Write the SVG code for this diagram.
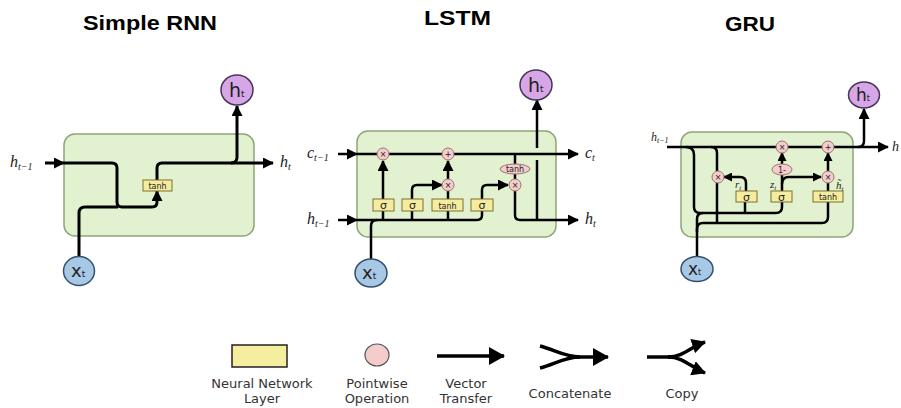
<svg xmlns="http://www.w3.org/2000/svg" width="901" height="408" viewBox="0 0 901 408">
<defs>
<marker id="ah" markerUnits="userSpaceOnUse" markerWidth="11" markerHeight="11" refX="10" refY="5.5" orient="auto"><path d="M0,0 L11,5.5 L0,11 z" fill="#000"/></marker>
<marker id="ahs" markerUnits="userSpaceOnUse" markerWidth="9" markerHeight="9" refX="8" refY="4.5" orient="auto"><path d="M0,0 L9,4.5 L0,9 z" fill="#000"/></marker>
<marker id="ahl" markerUnits="userSpaceOnUse" markerWidth="16" markerHeight="18" refX="15" refY="9" orient="auto"><path d="M0,0 L16,9 L0,18 z" fill="#000"/></marker>
<marker id="ahc" markerUnits="userSpaceOnUse" markerWidth="14" markerHeight="15" refX="13" refY="7.5" orient="auto"><path d="M0,0 L14,7.5 L0,15 z" fill="#000"/></marker>
<style>
.title{font-family:"Liberation Sans",Arial,sans-serif;font-weight:bold;font-size:20px;fill:#000}
.cell{fill:#e2f1d0;stroke:#8ea676;stroke-width:1.5}
.layer{fill:#f5ec9f;stroke:#7d7030;stroke-width:1}
.pw{fill:#f3cccc;stroke:#a07070;stroke-width:1}
.hc{fill:#d6a6e6;stroke:#4a3358;stroke-width:1.5}
.xc{fill:#a8c9e6;stroke:#33506e;stroke-width:1.5}
.ln{fill:none;stroke:#000;stroke-width:3;stroke-linejoin:round}
.ln2{fill:none;stroke:#000;stroke-width:2.5;stroke-linejoin:round}
.math{font-family:"Liberation Serif","DejaVu Serif",serif;font-style:italic;fill:#222}
.circ{font-family:"DejaVu Sans",sans-serif;fill:#222}
.small{font-family:"DejaVu Sans",sans-serif;font-size:8px;fill:#222;text-anchor:middle}
.leg{font-family:"DejaVu Sans",sans-serif;font-size:13px;fill:#333;text-anchor:middle}
.lg{fill:none;stroke:#000;stroke-width:3.5}
</style>
</defs>
<rect width="901" height="408" fill="#fff"/>

<text class="title" x="83" y="30" textLength="134" lengthAdjust="spacingAndGlyphs">Simple RNN</text>
<text class="title" x="424" y="25" textLength="67" lengthAdjust="spacingAndGlyphs">LSTM</text>
<text class="title" x="725" y="31" textLength="50" lengthAdjust="spacingAndGlyphs">GRU</text>

<!-- Simple RNN -->
<g id="rnn-cell"><rect class="cell" x="64" y="134" width="190" height="102" rx="11"/></g>
<g id="rnn-connectors">
<path class="ln" d="M45,163 H64" marker-end="url(#ah)"/>
<path class="ln" d="M64,163 H112 Q117,163 117,168 V202 Q117,207 122,207 H152 Q157,207 157,202 V191" marker-end="url(#ah)"/>
<path class="ln" d="M79,256 V213 Q79,207 85,207 H118"/>
<path class="ln" d="M157,180 V168 Q157,163 162,163 H273" marker-end="url(#ah)"/>
<path class="ln" d="M231,163 Q237,163 237,157 V106" marker-end="url(#ah)"/>
</g>
<g id="rnn-tanh"><rect class="layer" x="143" y="180" width="29" height="11"/><text class="small" x="157.5" y="188.5">tanh</text></g>
<g id="rnn-ht"><ellipse class="hc" cx="237" cy="90" rx="16" ry="15"/><text class="circ" x="229" y="97" font-size="19">h<tspan font-size="9">t</tspan></text></g>
<g id="rnn-xt"><ellipse class="xc" cx="79" cy="271" rx="15.5" ry="14.5"/><text class="circ" x="71" y="277" font-size="18">x<tspan font-size="9">t</tspan></text></g>
<g id="rnn-labels">
<text class="math" x="10" y="167" font-size="16">h<tspan font-size="10" dy="3">t−1</tspan></text>
<text class="math" x="280" y="167" font-size="16">h<tspan font-size="10" dy="3">t</tspan></text>
</g>

<!-- LSTM -->
<g id="lstm-cell"><rect class="cell" x="357" y="131" width="199" height="106" rx="11"/></g>
<g id="lstm-connectors">
<path class="ln2" d="M338,154 H357" marker-end="url(#ah)"/>
<path class="ln2" d="M357,154 H578" marker-end="url(#ah)"/>
<path class="ln2" d="M338,220 H357" marker-end="url(#ah)"/>
<path class="ln2" d="M357,220 H477 Q482,220 482,215 V211"/>
<path class="ln2" d="M371,259 V226 Q371,220 377,220"/>
<path class="ln2" d="M383,220 V161" marker-end="url(#ah)"/>
<path class="ln2" d="M412,220 V190 Q412,185 417,185 H442" marker-end="url(#ah)"/>
<path class="ln2" d="M448,220 V191"/>
<path class="ln2" d="M448,179 V161" marker-end="url(#ah)"/>
<path class="ln2" d="M482,199 V190 Q482,185 487,185 H508" marker-end="url(#ah)"/>
<path class="ln2" d="M515,154 V165"/>
<path class="ln2" d="M515,174 V179"/>
<path class="ln2" d="M515,191 V215 Q515,220 520,220 H578" marker-end="url(#ah)"/>
<path class="ln2" d="M537,220 V160"/>
<path class="ln2" d="M537,148 V100" marker-end="url(#ah)"/>
</g>
<g id="lstm-gates">
<rect class="layer" x="373" y="199" width="21" height="12"/><text class="circ" x="383.5" y="209" font-size="11" text-anchor="middle">σ</text>
<rect class="layer" x="402" y="199" width="21" height="12"/><text class="circ" x="412.5" y="209" font-size="11" text-anchor="middle">σ</text>
<rect class="layer" x="432" y="199" width="31" height="12"/><text class="small" x="447.5" y="208.5" font-size="9">tanh</text>
<rect class="layer" x="471" y="199" width="22" height="12"/><text class="circ" x="482" y="209" font-size="11" text-anchor="middle">σ</text>
</g>
<g id="lstm-ops">
<circle class="pw" cx="383" cy="154" r="6"/><text class="small" x="383" y="157">×</text>
<circle class="pw" cx="448" cy="154" r="6"/><text class="small" x="448" y="157">+</text>
<circle class="pw" cx="448" cy="185" r="6"/><text class="small" x="448" y="188">×</text>
<ellipse class="pw" cx="515" cy="169" rx="15" ry="5"/><text class="small" x="515" y="172">tanh</text>
<circle class="pw" cx="515" cy="185" r="6"/><text class="small" x="515" y="188">×</text>
</g>
<g id="lstm-ht"><ellipse class="hc" cx="536" cy="85" rx="16" ry="15"/><text class="circ" x="528" y="92" font-size="19">h<tspan font-size="9">t</tspan></text></g>
<g id="lstm-xt"><ellipse class="xc" cx="371" cy="273" rx="16" ry="14"/><text class="circ" x="362" y="279" font-size="18">x<tspan font-size="9">t</tspan></text></g>
<g id="lstm-labels">
<text class="math" x="307" y="158" font-size="16">c<tspan font-size="10" dy="3">t−1</tspan></text>
<text class="math" x="585" y="158" font-size="16">c<tspan font-size="10" dy="3">t</tspan></text>
<text class="math" x="307" y="224" font-size="16">h<tspan font-size="10" dy="3">t−1</tspan></text>
<text class="math" x="585" y="224" font-size="16">h<tspan font-size="10" dy="3">t</tspan></text>
</g>

<!-- GRU -->
<g id="gru-cell"><rect class="cell" x="681" y="132" width="172" height="105" rx="11"/></g>
<g id="gru-connectors">
<path class="ln2" d="M667,147 H888" marker-end="url(#ah)"/>
<path class="ln2" d="M858,147 Q864,147 864,141 V109" marker-end="url(#ah)"/>
<path class="ln2" d="M686,147 Q694,147 694,155 V207 Q694,213 700,213 H776 Q782,213 782,207 V201"/>
<path class="ln2" d="M745,213 V201"/>
<path class="ln2" d="M711,147 Q717,147 717,153 V171"/>
<path class="ln2" d="M717,183 V223"/>
<path class="ln2" d="M697,257 V229 Q697,223 703,223 H822 Q828,223 828,217 V201"/>
<path class="ln2" d="M697,232 V219 Q697,213 703,213"/>
<path class="ln2" d="M746,191 V183 Q746,177 740,177 H724" marker-end="url(#ahs)"/>
<path class="ln2" d="M782,191 V175"/>
<path class="ln2" d="M782,164 V153" marker-end="url(#ahs)"/>
<path class="ln2" d="M782,184 Q782,177 789,177 H821" marker-end="url(#ahs)"/>
<path class="ln2" d="M828,191 V183"/>
<path class="ln2" d="M828,171 V153" marker-end="url(#ahs)"/>
</g>
<g id="gru-gates">
<rect class="layer" x="736" y="191" width="21" height="11"/><text class="circ" x="746.5" y="200.5" font-size="11" text-anchor="middle">σ</text>
<rect class="layer" x="771" y="191" width="21" height="11"/><text class="circ" x="781.5" y="200.5" font-size="11" text-anchor="middle">σ</text>
<rect class="layer" x="813" y="191" width="30" height="11"/><text class="small" x="828" y="199.5" font-size="9">tanh</text>
</g>
<g id="gru-ops">
<circle class="pw" cx="782" cy="147" r="6"/><text class="small" x="782" y="150">×</text>
<circle class="pw" cx="828" cy="147" r="6"/><text class="small" x="828" y="150">+</text>
<ellipse class="pw" cx="782" cy="169.5" rx="10" ry="5.5"/><text class="small" x="782" y="172.5">1-</text>
<circle class="pw" cx="718" cy="177" r="6"/><text class="small" x="718" y="180">×</text>
<circle class="pw" cx="828" cy="177" r="6"/><text class="small" x="828" y="180">×</text>
</g>
<g id="gru-ht"><ellipse class="hc" cx="864" cy="95" rx="15.5" ry="13"/><text class="circ" x="856" y="101" font-size="17">h<tspan font-size="8">t</tspan></text></g>
<g id="gru-xt"><ellipse class="xc" cx="697" cy="269" rx="16" ry="12.5"/><text class="circ" x="688" y="275" font-size="17">x<tspan font-size="8">t</tspan></text></g>
<g id="gru-labels">
<text class="math" x="651" y="141" font-size="12">h<tspan font-size="8" dy="2">t−1</tspan></text>
<text class="math" x="892" y="151" font-size="14">h</text>
<text class="math" x="735" y="188" font-size="11">r<tspan font-size="7" dy="2">t</tspan></text>
<text class="math" x="770" y="188" font-size="11">z<tspan font-size="7" dy="2">t</tspan></text>
<text class="math" x="836" y="189" font-size="11">h̃<tspan font-size="7" dy="2">t</tspan></text>
</g>

<!-- Legend -->
<g id="legend-layer"><rect x="232" y="345" width="55" height="22" fill="#f5ee9e" stroke="#222" stroke-width="1.5"/>
<text class="leg" x="262" y="388">Neural Network</text><text class="leg" x="262" y="403">Layer</text></g>
<g id="legend-pointwise"><ellipse cx="377" cy="355" rx="12" ry="11" fill="#f4cccc" stroke="#555" stroke-width="1.2"/>
<text class="leg" x="377" y="388">Pointwise</text><text class="leg" x="377" y="403">Operation</text></g>
<g id="legend-vector"><path class="lg" d="M437,356 H504" marker-end="url(#ahl)"/>
<text class="leg" x="466" y="388">Vector</text><text class="leg" x="466" y="403">Transfer</text></g>
<g id="legend-concat"><path class="lg" d="M540,346 C555,350 565,357 580,357 M540,368 C555,364 565,357 580,357"/>
<path class="lg" d="M576,357 H608" marker-end="url(#ahl)"/>
<text class="leg" x="570" y="398">Concatenate</text></g>
<g id="legend-copy"><path class="lg" d="M647,357 H672"/>
<path class="lg" d="M668,357 C684,357 690,347 705,342" marker-end="url(#ahc)"/>
<path class="lg" d="M668,357 C684,357 690,367 705,373" marker-end="url(#ahc)"/>
<text class="leg" x="682" y="398">Copy</text></g>
</svg>
